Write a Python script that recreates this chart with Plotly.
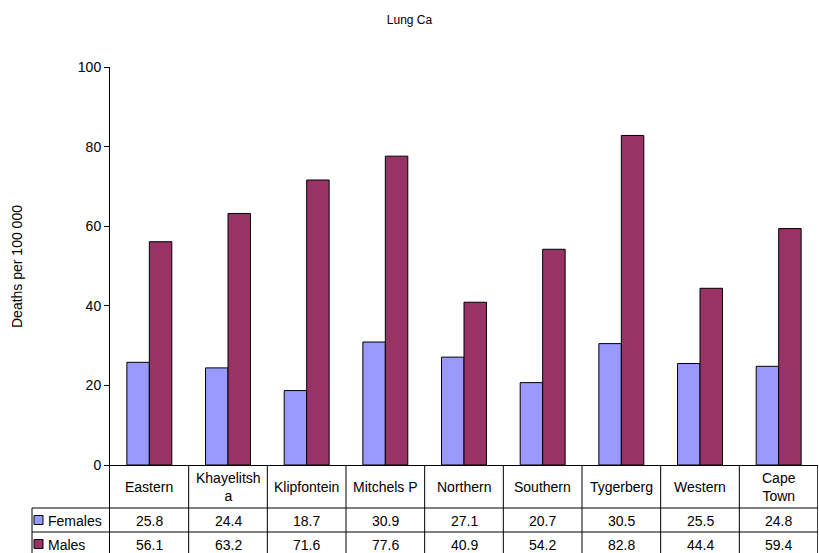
import plotly.graph_objects as go

categories = ["Eastern", "Khayelitsha", "Klipfontein", "Mitchels P", "Northern",
              "Southern", "Tygerberg", "Western", "Cape Town"]
header_labels = ["Eastern", "Khayelitsh<br>a", "Klipfontein", "Mitchels P", "Northern",
                 "Southern", "Tygerberg", "Western", "Cape<br>Town"]
females = [25.8, 24.4, 18.7, 30.9, 27.1, 20.7, 30.5, 25.5, 24.8]
males = [56.1, 63.2, 71.6, 77.6, 40.9, 54.2, 82.8, 44.4, 59.4]
series_names = ["Females", "Males"]
series_colors = ["#9999FF", "#993366"]
title_text = "Lung Ca"
y_title = "Deaths per 100 000"
y_ticks = [0, 20, 40, 60, 80, 100]

W, H = 819, 553
L, R, T = 110, 1, 67
BASE_PX = 465
PX_PER_UNIT = (BASE_PX - T) / 100.0
y_bottom = -(H - BASE_PX) / PX_PER_UNIT

def y_of(px):
    return -(px - BASE_PX) / PX_PER_UNIT

FONT = "Liberation Sans, Arial, sans-serif"
FS = 14

x_idx = list(range(len(categories)))

fig = go.Figure()
for name, vals, col in zip(series_names, [females, males], series_colors):
    fig.add_trace(go.Bar(x=x_idx, y=vals, name=name, marker=dict(color=col, line=dict(color="black", width=1)),
                         showlegend=False))

shapes = []
for py in [508, 532]:
    shapes.append(dict(type="line", xref="x", yref="y", x0=-0.5, x1=len(categories) - 0.5,
                       y0=y_of(py), y1=y_of(py), line=dict(color="black", width=1)))
for i in range(len(categories)):
    shapes.append(dict(type="line", xref="x", yref="y", x0=i + 0.5, x1=i + 0.5,
                       y0=0, y1=y_bottom, line=dict(color="black", width=1.5 if i == len(categories) - 1 else 1)))
pw = W - L - R
def xp(px):
    return (px - L) / pw
ph = H - T
def yp(py):
    return (H - py) / ph
for py in [508, 532]:
    shapes.append(dict(type="line", xref="paper", yref="paper", x0=xp(32), x1=0,
                       y0=yp(py), y1=yp(py), line=dict(color="black", width=1)))
shapes.append(dict(type="line", xref="paper", yref="paper", x0=xp(32), x1=xp(32),
                   y0=yp(508), y1=yp(H), line=dict(color="black", width=1)))
for k, (name, col) in enumerate(zip(series_names, series_colors)):
    cy = 520 + 24 * k
    shapes.append(dict(type="rect", xref="paper", yref="paper", x0=xp(34), x1=xp(43),
                       y0=yp(cy + 4.5), y1=yp(cy - 4.5), fillcolor=col,
                       line=dict(color="black", width=1)))

annotations = []
for i, lab in enumerate(header_labels):
    annotations.append(dict(x=i, y=y_of(487), xref="x", yref="y", text=lab, showarrow=False,
                            xanchor="center", yanchor="middle",
                            font=dict(family=FONT, size=FS, color="black"), align="center"))
for k, vals in enumerate([females, males]):
    cy = 521 + 24 * k
    for i, v in enumerate(vals):
        annotations.append(dict(x=i, y=y_of(cy), xref="x", yref="y", text=f"{v:.1f}", showarrow=False,
                                xanchor="center", yanchor="middle",
                                font=dict(family=FONT, size=FS, color="black")))
    annotations.append(dict(x=xp(46), y=y_of(cy), xref="paper", yref="y", text=series_names[k],
                            showarrow=False, xanchor="left", yanchor="middle",
                            font=dict(family=FONT, size=FS, color="black")))
annotations.append(dict(x=xp(17), y=50, xref="paper", yref="y", text=y_title, textangle=-90,
                        showarrow=False, xanchor="center", yanchor="middle",
                        font=dict(family=FONT, size=FS, color="black")))

fig.update_layout(
    width=W, height=H,
    margin=dict(l=L, r=R, t=T, b=0, pad=0),
    paper_bgcolor="white", plot_bgcolor="white",
    barmode="group", bargap=0.4286, bargroupgap=0,
    title=dict(text=title_text, x=0.5, xref="container", y=1 - 20 / H, yref="container",
               xanchor="center", yanchor="middle", font=dict(family=FONT, size=12, color="black")),
    xaxis=dict(range=[-0.5, len(categories) - 0.5], showticklabels=False, showgrid=False,
               zeroline=False, showline=False, ticks=""),
    yaxis=dict(range=[y_bottom, 100], tickvals=y_ticks, ticktext=[str(t) for t in y_ticks],
               showgrid=False, zeroline=True, zerolinecolor="black", zerolinewidth=1,
               showline=True, linecolor="black", linewidth=1, ticks="outside", ticklen=5,
               tickcolor="black", tickfont=dict(family=FONT, size=FS, color="black")),
    shapes=shapes, annotations=annotations,
    font=dict(family=FONT, color="black"),
)

fig.write_html("out.html", config={"displayModeBar": False},
               post_script="document.body.style.margin='0';document.body.style.overflow='hidden';")
